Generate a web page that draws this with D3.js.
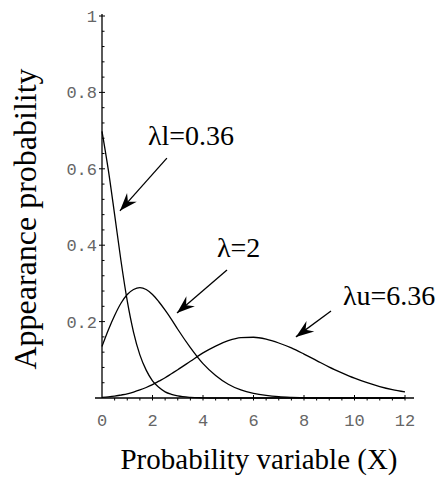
<!DOCTYPE html>
<html>
<head>
<meta charset="utf-8">
<script src="https://cdn.jsdelivr.net/npm/d3@7"></script>
<style>
  body { margin: 0; background: #fff; }
  svg { display: block; }
</style>
</head>
<body>
<svg id="chart" width="448" height="482"></svg>
<script>
const width = 448;
const height = 482;

// x positions sampled along the probability variable
const xs = [0, 0.25, 0.5, 0.75, 1, 1.25, 1.5, 1.75, 2, 2.25, 2.5, 2.75, 3, 3.5, 4, 4.5, 5, 5.5, 6, 6.5, 7, 7.5, 8, 8.5, 9, 9.5, 10, 10.5, 11, 11.5, 12];

// appearance probability at xs
const lowVals = [0.698, 0.597, 0.48, 0.36, 0.254, 0.172, 0.113, 0.073, 0.045, 0.028, 0.016, 0.0095, 0.0054, 0.0017, 0.0005, 0, 0, 0, 0, 0, 0, 0, 0, 0, 0, 0, 0, 0, 0, 0, 0];
const midVals = [0.135, 0.178, 0.216, 0.248, 0.271, 0.284, 0.289, 0.284, 0.271, 0.252, 0.230, 0.206, 0.180, 0.132, 0.090, 0.059, 0.036, 0.021, 0.012, 0.0066, 0.0034, 0.0018, 0.0009, 0, 0, 0, 0, 0, 0, 0, 0];
const upVals = [0.0017, 0.003, 0.0049, 0.0078, 0.011, 0.0155, 0.021, 0.0275, 0.035, 0.044, 0.053, 0.0635, 0.074, 0.096, 0.118, 0.136, 0.150, 0.158, 0.159, 0.154, 0.144, 0.131, 0.115, 0.098, 0.081, 0.066, 0.052, 0.040, 0.030, 0.022, 0.016];

const xTicks = [0, 2, 4, 6, 8, 10, 12];
const yTicks = [0.2, 0.4, 0.6, 0.8, 1];

// label text, where the arrow starts and where it points (data units)
const labels = ["λl=0.36", "λ=2", "λu=6.36"];
const labelAt = [[1.82, 0.662], [4.55, 0.369], [9.54, 0.243]];
const arrowFrom = [[2.57, 0.628], [4.95, 0.335], [9.07, 0.228]];
const arrowTo = [[0.71, 0.49], [2.97, 0.2225], [7.68, 0.16]];

const svg = d3.select("#chart");

const x = d3.scaleLinear().domain([0, 12]).range([102, 405]);
const y = d3.scaleLinear().domain([0, 1]).range([398, 16]);

//axes
const axis = svg.append("g").attr("stroke", "#000").attr("stroke-width", 1.3);
axis.append("line")
  .attr("x1", 95).attr("x2", 414)
  .attr("y1", y(0)).attr("y2", y(0));
axis.append("line")
  .attr("x1", x(0)).attr("x2", x(0))
  .attr("y1", y(0)).attr("y2", y(1) - 2);

// minor ticks
const xMinor = d3.range(0.5, 12.01, 0.5).filter((d) => d % 2 !== 0);
const yMinor = d3.range(0.04, 1.001, 0.04).filter((d) => Math.abs(d * 5 - Math.round(d * 5)) > 0.01);

axis.selectAll(".xminor")
  .data(xMinor)
  .join("line")
  .attr("stroke-width", 1)
  .attr("x1", (d) => x(d)).attr("x2", (d) => x(d))
  .attr("y1", y(0)).attr("y2", y(0) + 2.5);
axis.selectAll(".xmajor")
  .data(xTicks.slice(1))
  .join("line")
  .attr("stroke-width", 1)
  .attr("x1", (d) => x(d)).attr("x2", (d) => x(d))
  .attr("y1", y(0) - 3).attr("y2", y(0) + 2.5);
axis.selectAll(".yminor")
  .data(yMinor)
  .join("line")
  .attr("stroke-width", 1)
  .attr("x1", x(0)).attr("x2", x(0) + 2.5)
  .attr("y1", (d) => y(d)).attr("y2", (d) => y(d));
axis.selectAll(".ymajor")
  .data(yTicks)
  .join("line")
  .attr("stroke-width", 1)
  .attr("x1", x(0) - 3).attr("x2", x(0) + 3)
  .attr("y1", (d) => y(d)).attr("y2", (d) => y(d));

// tick labels
svg.append("g")
  .style("font", "17px 'Liberation Mono', 'Courier New', monospace")
  .attr("fill", "#666")
  .selectAll("text")
  .data(xTicks)
  .join("text")
  .attr("x", (d) => x(d))
  .attr("y", 426)
  .attr("text-anchor", "middle")
  .text((d) => d);

svg.append("g")
  .style("font", "17px 'Liberation Mono', 'Courier New', monospace")
  .attr("fill", "#666")
  .selectAll("text")
  .data(yTicks)
  .join("text")
  .attr("x", 97)
  .attr("y", (d) => y(d))
  .attr("dy", "0.35em")
  .attr("text-anchor", "end")
  .text((d) => (d === 1 ? "1" : d3.format(".1f")(d)));

// axis titles
svg.append("text")
  .attr("transform", `translate(36, 219) rotate(-90)`)
  .attr("text-anchor", "middle")
  .style("font", "32px 'Liberation Serif', 'Times New Roman', serif")
  .text("Appearance probability");

svg.append("text")
  .attr("x", 259)
  .attr("y", 469)
  .attr("text-anchor", "middle")
  .style("font", "29px 'Liberation Serif', 'Times New Roman', serif")
  .text("Probability variable (X)");

// curves
const line = d3.line()
  .x((d) => x(d[0]))
  .y((d) => y(d[1]))
  .curve(d3.curveMonotoneX);

[lowVals, midVals, upVals].forEach((vals) => {
  svg.append("path")
    .datum(xs.map((d, i) => [d, vals[i]]))
    .attr("fill", "none")
    .attr("stroke", "#000")
    .attr("stroke-width", 1.3)
    .attr("d", line);
});

// annotation labels and arrows
svg.append("g")
  .style("font", "28px 'Liberation Serif', 'Times New Roman', serif")
  .selectAll("text")
  .data(labels)
  .join("text")
  .attr("x", (d, i) => x(labelAt[i][0]))
  .attr("y", (d, i) => y(labelAt[i][1]))
  .text((d) => d);

function arrowPath(a, b) {
  const x0 = x(a[0]), y0 = y(a[1]);
  const x1 = x(b[0]), y1 = y(b[1]);
  const ang = Math.atan2(y1 - y0, x1 - x0);
  const len = 18, half = 6.5, notch = 12;
  const c = Math.cos(ang), s = Math.sin(ang);
  const bx = x1 - len * c, by = y1 - len * s;
  const nx = x1 - notch * c, ny = y1 - notch * s;
  return `M${x1},${y1} L${bx - half * s},${by + half * c} L${nx},${ny} L${bx + half * s},${by - half * c} Z`;
}

const arrows = svg.append("g");
arrows.selectAll("line")
  .data(arrowFrom)
  .join("line")
  .attr("x1", (d) => x(d[0]))
  .attr("y1", (d) => y(d[1]))
  .attr("x2", (d, i) => x(arrowTo[i][0]))
  .attr("y2", (d, i) => y(arrowTo[i][1]))
  .attr("stroke", "#000")
  .attr("stroke-width", 1.3);
arrows.selectAll("path")
  .data(arrowFrom)
  .join("path")
  .attr("d", (d, i) => arrowPath(d, arrowTo[i]))
  .attr("fill", "#000");
</script>
</body>
</html>
